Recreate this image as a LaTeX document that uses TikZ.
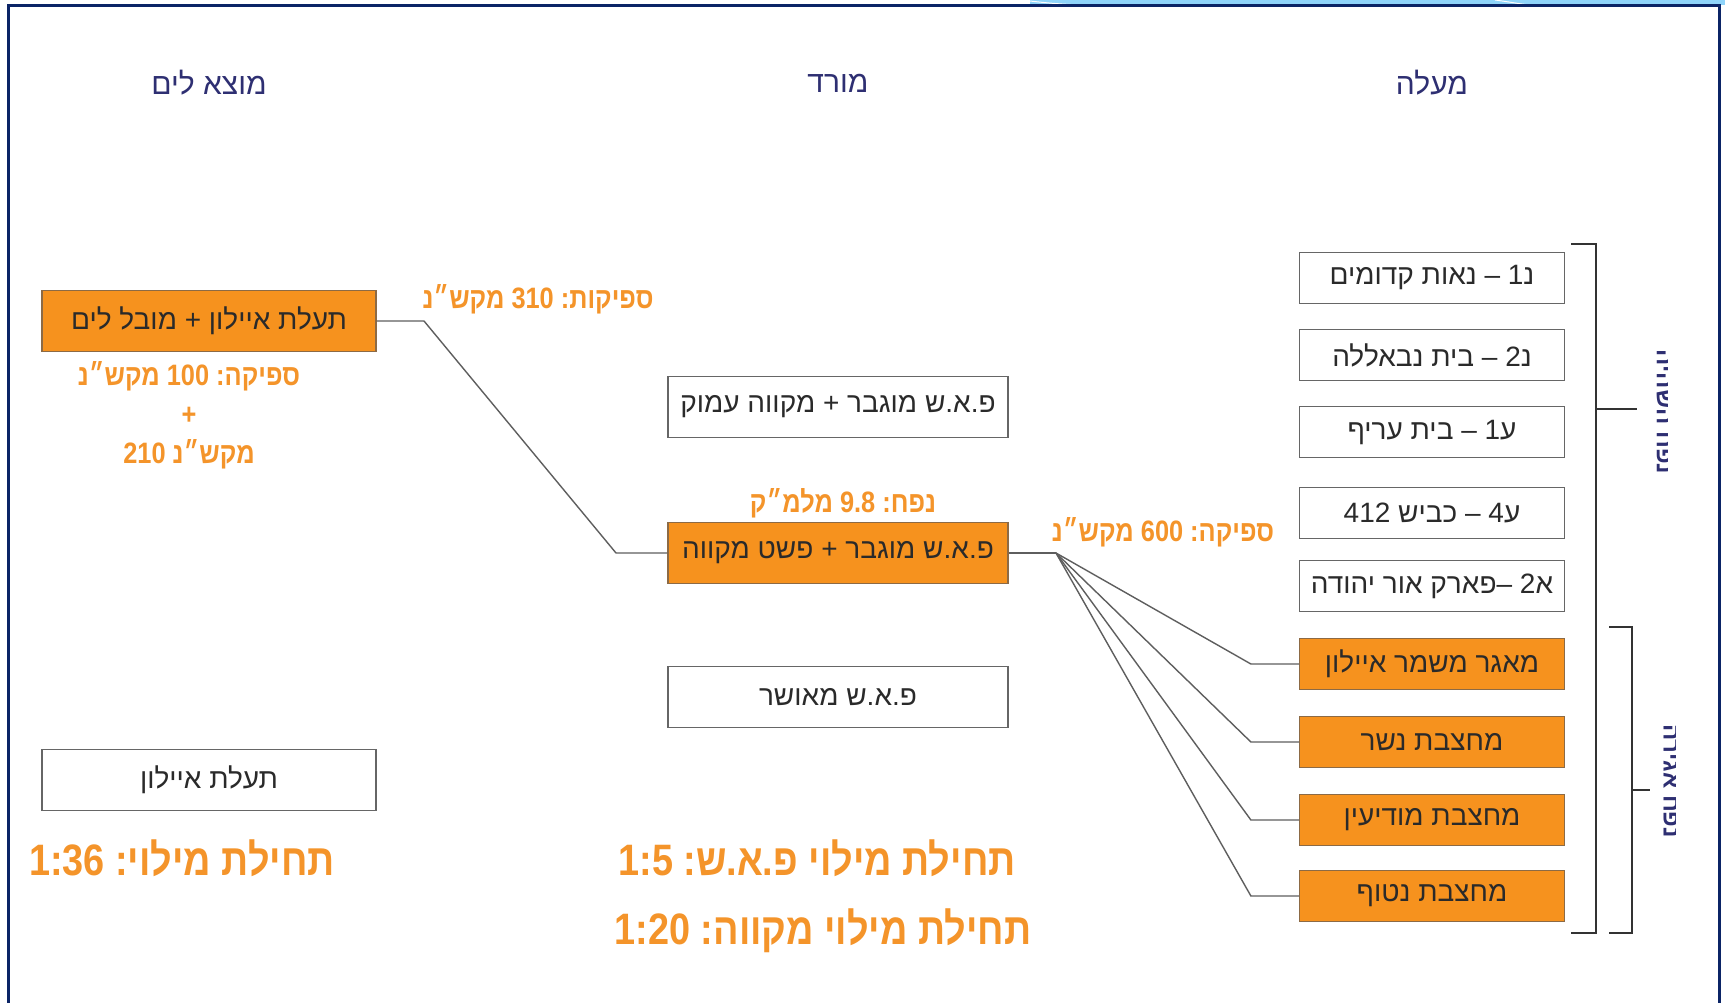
\documentclass[tikz,border=0pt]{standalone}
\usepackage{fontspec}
\setmainfont{Liberation Sans}
\newfontfamily\heb[Script=Hebrew]{Liberation Sans}
\newfontfamily\hebc[Script=Hebrew,FakeStretch=0.86]{Liberation Sans}
\TeXXeTstate=1
\frenchspacing
\newcommand\RL[1]{\beginR #1\endR}
\newcommand\LR[1]{\beginL #1\endL{}}
\definecolor{frame}{HTML}{0B2466}
\definecolor{orfill}{HTML}{F6921E}
\definecolor{ortext}{HTML}{F4942A}
\definecolor{ordraw}{HTML}{8C6A45}
\definecolor{navy}{HTML}{2E2F72}
\definecolor{boxtxt}{HTML}{2A2A2A}
\definecolor{conn}{HTML}{5E5E5E}
\definecolor{skyb}{HTML}{8FD4FA}
\begin{document}
\begin{tikzpicture}[x=1pt,y=-1pt,
  wbox/.style={draw=black!60, line width=1.5pt, fill=white, inner sep=0pt,
     text=boxtxt, font=\heb\fontsize{28}{32}\selectfont},
  obox/.style={draw=ordraw, line width=1.2pt, fill=orfill, inner sep=0pt,
     text=boxtxt, font=\heb\fontsize{28}{32}\selectfont},
  leftbox/.style={minimum width=334pt, minimum height=61pt},
  midbox/.style={minimum width=340pt, minimum height=61pt},
  rbox/.style={minimum width=265pt, minimum height=51pt},
  head/.style={text=navy, inner sep=0pt, font=\heb\fontsize{30}{34}\selectfont},
  olab/.style={text=ortext, inner sep=0pt, font=\hebc\bfseries\fontsize{29.5}{32}\selectfont},
  biglab/.style={text=ortext, inner sep=0pt, font=\hebc\bfseries\fontsize{44}{48}\selectfont},
  vlab/.style={text=navy, inner sep=0pt, rotate=-90, font=\heb\bfseries\fontsize{24}{28}\selectfont},
  link/.style={draw=conn, line width=1.4pt},
  brk/.style={draw=black!80, line width=1.8pt}
]
\useasboundingbox (0,0) rectangle (1725,1003);
\fill[white] (0,0) rectangle (1725,1003);
% top band
\fill[skyb] (1030,0) rectangle (1725,5);
\draw[white, line width=1pt] (1030,1) .. controls (1055,4) and (1075,5) .. (1090,5);
\draw[white, line width=1pt] (1495,0) .. controls (1510,2) and (1520,4) .. (1530,5);
% frame
\draw[frame, line width=3pt] (8.5,1010) -- (8.5,5.5) -- (1719.5,5.5) -- (1719.5,1010);

% headings
\node[head] (hsea) at (209,83) {\RL{מוצא לים}};
\node[head] (hdown) at (838,83) {\RL{מורד}};
\node[head] (hup) at (1432,83) {\RL{מעלה}};

% left column
\node[obox, leftbox] (sea1) at (209,321) {\RL{תעלת איילון + מובל לים}};
\node[olab] (q1) at (189,376) {\RL{ספיקה: \LR{100} מקש״נ}};
\node[olab] (qplus) at (189,416) {+};
\node[olab] (q2) at (189,454) {\RL{מקש״נ \LR{210}}};
\node[wbox, leftbox] (sea2) at (209,780) {\RL{תעלת איילון}};
\node[biglab] (fill1) at (182,858) {\RL{תחילת מילוי: \LR{1:36}}};

% middle column
\node[olab] (q310) at (538,299) {\RL{ספיקות: \LR{310} מקש״נ}};
\node[wbox, midbox] (mid1) at (838,407) {\RL{פ.א.ש מוגבר + מקווה עמוק}};
\node[olab] (vol) at (843,503) {\RL{נפח: \LR{9.8} מלמ״ק}};
\node[obox, midbox] (mid2) at (838,553) {\RL{פ.א.ש מוגבר + פשט מקווה}};
\node[wbox, midbox] (mid3) at (838,697) {\RL{פ.א.ש מאושר}};
\node[olab] (q600) at (1163,532) {\RL{ספיקה: \LR{600} מקש״נ}};
\node[biglab] (fill2) at (817,858) {\RL{תחילת מילוי פ.א.ש: \LR{1:5}}};
\node[biglab] (fill3) at (823,931) {\RL{תחילת מילוי מקווה: \LR{1:20}}};

% right column
\node[wbox, rbox] (r1) at (1432,278) {\RL{נ\LR{1} – נאות קדומים}};
\node[wbox, rbox] (r2) at (1432,355) {\RL{נ\LR{2} – בית נבאללה}};
\node[wbox, rbox] (r3) at (1432,432) {\RL{ע\LR{1} – בית עריף}};
\node[wbox, rbox] (r4) at (1432,513) {\RL{ע\LR{4} – כביש \LR{412}}};
\node[wbox, rbox] (r5) at (1432,586) {\RL{א\LR{2} –פארק אור יהודה}};
\node[obox, rbox] (o1) at (1432,664) {\RL{מאגר משמר איילון}};
\node[obox, rbox] (o2) at (1432,742) {\RL{מחצבת נשר}};
\node[obox, rbox] (o3) at (1432,820) {\RL{מחצבת מודיעין}};
\node[obox, rbox] (o4) at (1432,896) {\RL{מחצבת נטוף}};

% connectors
\coordinate (c1) at (424,321);
\coordinate (c2) at (616,553);
\draw[link] (sea1.east) -- (c1) -- (c2) -- (mid2.west);
\coordinate (hub) at (1056,553);
\draw[link] (mid2.east) -- (hub);
\foreach \n in {o1,o2,o3,o4}{
  \coordinate (k\n) at ([xshift=-48pt]\n.west);
  \draw[link] (hub) -- (k\n) -- (\n.west);
}

% brackets
\draw[brk] (1571,244) -- (1596,244) -- (1596,933) -- (1571,933);
\draw[brk] (1596,409) -- (1637,409);
\draw[brk] (1609,627) -- (1632,627) -- (1632,933) -- (1609,933);
\draw[brk] (1632,790) -- (1650,790);
\begin{scope}
\clip (1640,330) rectangle (1667,490);
\node[vlab] (v1) at (1664,412) {\RL{נפח השהיה}};
\end{scope}
\begin{scope}
\clip (1645,700) rectangle (1675,860);
\node[vlab] (v2) at (1671,781) {\RL{נפח אגירה}};
\end{scope}
\end{tikzpicture}
\end{document}
